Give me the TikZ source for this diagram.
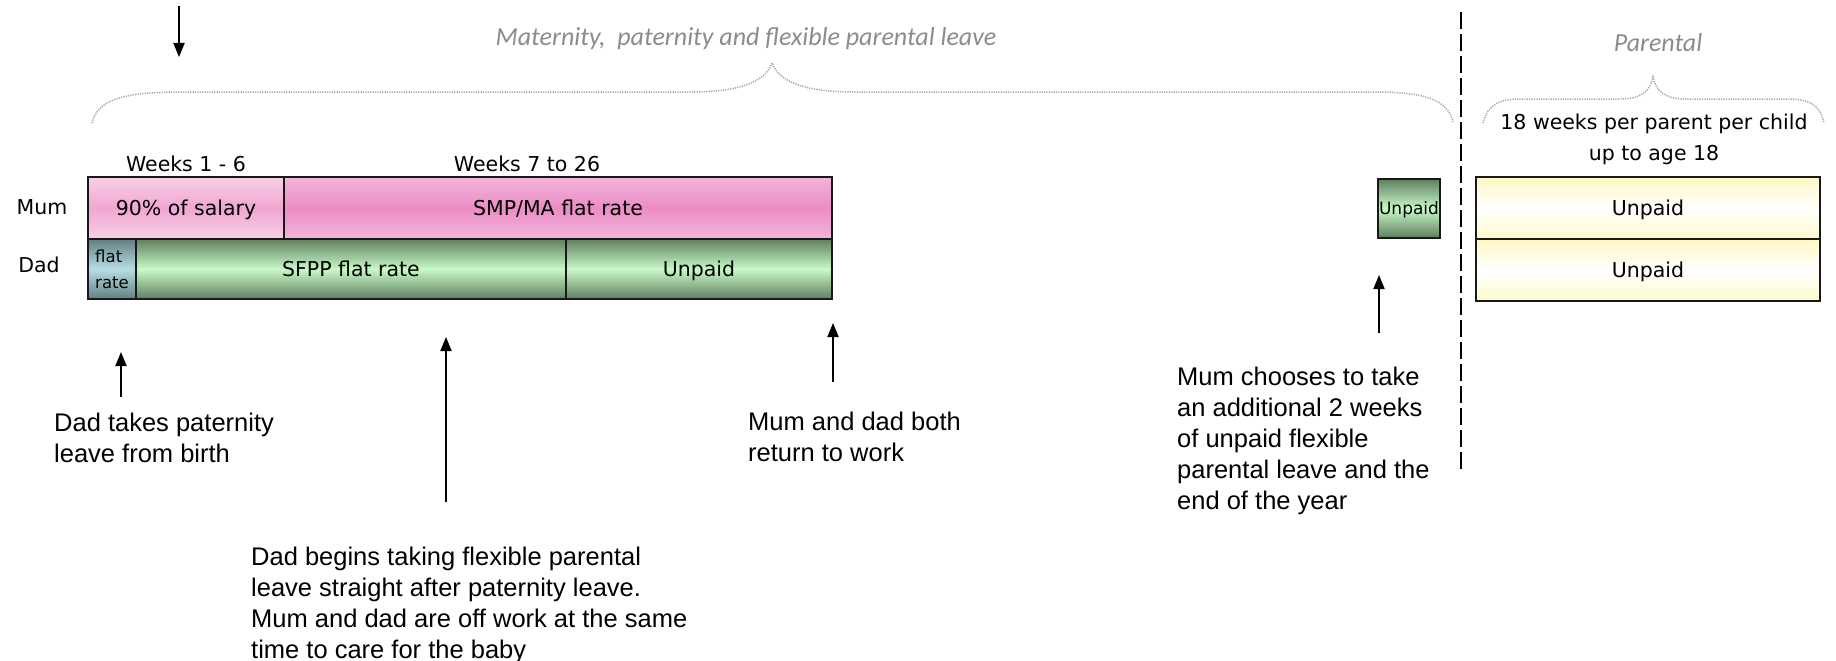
\documentclass[tikz,border=0pt]{standalone}
\usepackage{fontspec}
\setmainfont{DejaVu Sans}
\newfontfamily\annfont{Liberation Sans}
\newfontfamily\capfont{Carlito}
\usetikzlibrary{arrows.meta}
\definecolor{pinkedge}{HTML}{F3B5DA}
\definecolor{pinkmid}{HTML}{EC8CC6}
\definecolor{lpinkedge}{HTML}{F8D0E6}
\definecolor{lpinkmid}{HTML}{F0A6D2}
\definecolor{greenedge}{HTML}{5F7F60}
\definecolor{greenmid}{HTML}{C8F9C8}
\definecolor{blueedge}{HTML}{627E83}
\definecolor{bluemid}{HTML}{B6DFE3}
\definecolor{yeledge}{HTML}{FFF8C4}
\definecolor{yelbot}{HTML}{FEFACB}
\definecolor{capgray}{HTML}{8C8C8C}
\definecolor{bracegray}{HTML}{A6A6A6}
\begin{document}
\begin{tikzpicture}[x=1pt,y=-1pt,
  bar/.style={draw=black!90, line width=2pt, inner sep=0pt, text height=15.5pt, text depth=0.5pt, font=\fontsize{20.5}{24}\selectfont},
  pinkbar/.style={bar, top color=pinkedge, bottom color=pinkedge, middle color=pinkmid},
  lpinkbar/.style={bar, top color=lpinkedge, bottom color=lpinkedge, middle color=lpinkmid},
  greenbar/.style={bar, top color=greenedge, bottom color=greenedge, middle color=greenmid},
  bluebar/.style={bar, top color=blueedge, bottom color=blueedge, middle color=bluemid},
  yelbar/.style={bar, top color=yeledge, bottom color=yelbot, middle color=white},
  lbl/.style={inner sep=0pt, font=\fontsize{20.5}{24}\selectfont},
  ann/.style={inner sep=0pt, anchor=north west, align=left, font=\annfont\fontsize{25.5}{31}\selectfont},
  arr/.style={-{Triangle[length=14pt,width=11pt]}, line width=2pt},
  captxt/.style={inner sep=0pt, text=capgray, font=\capfont\itshape\fontsize{26}{30}\selectfont},
  bracel/.style={draw=bracegray, line width=1.5pt, dash pattern=on 1.2pt off 1.2pt}
]
\useasboundingbox[fill=white] (0,0) rectangle (1836,661);

% captions and braces
\node[captxt] (title) at (746,39) {Maternity,\ \ paternity and flexible parental leave};
\node[captxt] (ptitle) at (1658,43) {Parental};
\draw[bracel] (92,123) .. controls (98,97) and (130,92) .. (185,92) -- (690,92)
  .. controls (740,92) and (765,82) .. (772,63)
  .. controls (779,82) and (805,92) .. (855,92) -- (1375,92)
  .. controls (1425,92) and (1448,100) .. (1453,122);
\draw[bracel] (1483,123) .. controls (1488,104) and (1500,99) .. (1520,99) -- (1620,99)
  .. controls (1640,99) and (1650,92) .. (1653,77)
  .. controls (1656,92) and (1666,99) .. (1686,99) -- (1788,99)
  .. controls (1808,99) and (1820,104) .. (1824,123);

% row labels
\node[lbl] (mum) at (42,207) {Mum};
\node[lbl] (dad) at (39,265) {Dad};
\node[lbl] (w16) at (186,164) {Weeks 1 - 6};
\node[lbl] (w726) at (527,164) {Weeks 7 to 26};
\node[lbl, align=center, font=\fontsize{20.5}{31}\selectfont] (ppc) at (1654,139) {18 weeks per parent per child\\up to age 18};

% bars
\node[lpinkbar, minimum width=196pt, minimum height=62pt] (m1) at (186,208) {90\% of salary};
\node[pinkbar, minimum width=548pt, minimum height=62pt] (m2) at (558,208) {SMP/MA flat rate};
\node[bluebar, minimum width=48pt, minimum height=60pt, align=left, text height=, text depth=, font=\fontsize{16.5}{26}\selectfont] (d1) at (112,269) {flat\\rate};
\node[greenbar, minimum width=430pt, minimum height=60pt] (d2) at (351,269) {SFPP flat rate};
\node[greenbar, minimum width=266pt, minimum height=60pt] (d3) at (699,269) {Unpaid};
\node[greenbar, minimum width=62pt, minimum height=59pt, text height=12.5pt, text depth=0pt, font=\fontsize{17}{20}\selectfont] (u) at (1409,208.5) {Unpaid};
\node[yelbar, minimum width=344pt, minimum height=62pt] (p1) at (1648,208) {Unpaid};
\node[yelbar, minimum width=344pt, minimum height=62pt] (p2) at (1648,270) {Unpaid};

% dashed divider
\coordinate (dtop) at (1461,12);
\coordinate (dbot) at (1461,472);
\draw[line width=2.7pt, dash pattern=on 17pt off 5pt] (dtop) -- (dbot);

% arrows
\coordinate (a0s) at (179,6);   \coordinate (a0e) at (179,57);
\coordinate (a1s) at (121,397); \coordinate (a1e) at (121,352);
\coordinate (a2s) at (446,502); \coordinate (a2e) at (446,337);
\coordinate (a3s) at (833,382); \coordinate (a3e) at (833,323);
\coordinate (a4s) at (1379,333); \coordinate (a4e) at (1379,275);
\draw[arr] (a0s) -- (a0e);
\draw[arr] (a1s) -- (a1e);
\draw[arr] (a2s) -- (a2e);
\draw[arr] (a3s) -- (a3e);
\draw[arr] (a4s) -- (a4e);

% annotations
\node[ann] (t1) at (54,413) {Dad takes paternity\\leave from birth};
\node[ann] (t2) at (251,547) {Dad begins taking flexible parental\\leave straight after paternity leave.\\Mum and dad are off work at the same\\time to care for the baby};
\node[ann] (t3) at (748,412) {Mum and dad both\\return to work};
\node[ann] (t4) at (1177,367) {Mum chooses to take\\an additional 2 weeks\\of unpaid flexible\\parental leave and the\\end of the year};
\end{tikzpicture}
\end{document}
